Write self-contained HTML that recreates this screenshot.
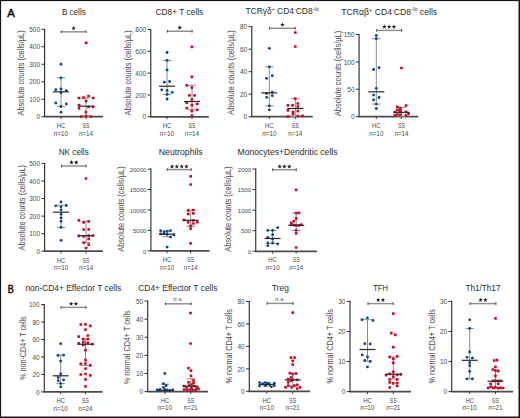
<!DOCTYPE html>
<html><head><meta charset="utf-8"><style>
html,body{margin:0;padding:0;background:#fff;}
body{width:520px;height:418px;overflow:hidden;position:relative;}
svg{display:block;position:absolute;left:0;top:0;}
text{font-family:"Liberation Sans", sans-serif;}
</style></head><body>
<svg width="520" height="418" viewBox="0 0 520 418">
<rect x="0" y="0" width="520" height="418" fill="#fff"/>
<text x="7.2" y="16.6" font-size="11.4" fill="#111" stroke="#111" stroke-width="0.55" textLength="7.6" lengthAdjust="spacingAndGlyphs">A</text>
<text x="7.7" y="292.8" font-size="11" fill="#111" stroke="#111" stroke-width="0.55" textLength="6.0" lengthAdjust="spacingAndGlyphs">B</text>
<line x1="44.60" y1="28.70" x2="44.60" y2="116.70" stroke="#2e2e2e" stroke-width="1.15"/>
<line x1="44.00" y1="116.70" x2="103.00" y2="116.70" stroke="#4c4c4c" stroke-width="1.75"/>
<line x1="41.40" y1="116.70" x2="44.60" y2="116.70" stroke="#2e2e2e" stroke-width="1"/>
<text x="40.00" y="119.40" font-size="6.4" fill="#4a4a4a" text-anchor="end" textLength="3.60" lengthAdjust="spacingAndGlyphs">0</text>
<line x1="41.40" y1="99.22" x2="44.60" y2="99.22" stroke="#2e2e2e" stroke-width="1"/>
<text x="40.00" y="101.92" font-size="6.4" fill="#4a4a4a" text-anchor="end" textLength="10.80" lengthAdjust="spacingAndGlyphs">100</text>
<line x1="41.40" y1="81.74" x2="44.60" y2="81.74" stroke="#2e2e2e" stroke-width="1"/>
<text x="40.00" y="84.44" font-size="6.4" fill="#4a4a4a" text-anchor="end" textLength="10.80" lengthAdjust="spacingAndGlyphs">200</text>
<line x1="41.40" y1="64.26" x2="44.60" y2="64.26" stroke="#2e2e2e" stroke-width="1"/>
<text x="40.00" y="66.96" font-size="6.4" fill="#4a4a4a" text-anchor="end" textLength="10.80" lengthAdjust="spacingAndGlyphs">300</text>
<line x1="41.40" y1="46.78" x2="44.60" y2="46.78" stroke="#2e2e2e" stroke-width="1"/>
<text x="40.00" y="49.48" font-size="6.4" fill="#4a4a4a" text-anchor="end" textLength="10.80" lengthAdjust="spacingAndGlyphs">400</text>
<line x1="41.40" y1="29.30" x2="44.60" y2="29.30" stroke="#2e2e2e" stroke-width="1"/>
<text x="40.00" y="32.00" font-size="6.4" fill="#4a4a4a" text-anchor="end" textLength="10.80" lengthAdjust="spacingAndGlyphs">500</text>
<line x1="61.00" y1="116.70" x2="61.00" y2="119.10" stroke="#2e2e2e" stroke-width="0.9"/>
<line x1="86.00" y1="116.70" x2="86.00" y2="119.10" stroke="#2e2e2e" stroke-width="0.9"/>
<text x="61.00" y="127.90" font-size="6.4" fill="#4a4a4a" text-anchor="middle" textLength="8.50" lengthAdjust="spacingAndGlyphs">HC</text>
<text x="86.00" y="127.90" font-size="6.4" fill="#4a4a4a" text-anchor="middle" textLength="7.00" lengthAdjust="spacingAndGlyphs">SS</text>
<text x="61.00" y="135.80" font-size="6.4" fill="#4a4a4a" text-anchor="middle" textLength="14.30" lengthAdjust="spacingAndGlyphs">n=10</text>
<text x="86.00" y="135.80" font-size="6.4" fill="#4a4a4a" text-anchor="middle" textLength="14.00" lengthAdjust="spacingAndGlyphs">n=14</text>
<line x1="61.00" y1="77.80" x2="61.00" y2="106.40" stroke="#8a8a8a" stroke-width="1"/>
<line x1="56.80" y1="77.80" x2="65.20" y2="77.80" stroke="#8a8a8a" stroke-width="1"/>
<line x1="56.80" y1="106.40" x2="65.20" y2="106.40" stroke="#8a8a8a" stroke-width="1"/>
<line x1="86.00" y1="98.00" x2="86.00" y2="116.40" stroke="#8a8a8a" stroke-width="1"/>
<line x1="81.80" y1="98.00" x2="90.20" y2="98.00" stroke="#8a8a8a" stroke-width="1"/>
<line x1="81.80" y1="116.40" x2="90.20" y2="116.40" stroke="#8a8a8a" stroke-width="1"/>
<circle cx="61.00" cy="64.20" r="1.42" fill="#0b4487"/>
<circle cx="61.00" cy="77.80" r="1.42" fill="#0b4487"/>
<circle cx="55.80" cy="89.70" r="1.42" fill="#0b4487"/>
<circle cx="61.00" cy="89.00" r="1.42" fill="#0b4487"/>
<circle cx="66.30" cy="90.70" r="1.42" fill="#0b4487"/>
<circle cx="61.00" cy="92.80" r="1.42" fill="#0b4487"/>
<circle cx="55.80" cy="103.00" r="1.42" fill="#0b4487"/>
<circle cx="66.30" cy="104.00" r="1.42" fill="#0b4487"/>
<circle cx="61.00" cy="106.50" r="1.42" fill="#0b4487"/>
<circle cx="61.00" cy="112.20" r="1.42" fill="#0b4487"/>
<rect x="84.85" y="41.50" width="2.7" height="2.7" rx="0.7" fill="#cc0a24"/>
<rect x="77.65" y="96.65" width="2.7" height="2.7" rx="0.7" fill="#cc0a24"/>
<rect x="82.15" y="96.35" width="2.7" height="2.7" rx="0.7" fill="#cc0a24"/>
<rect x="87.15" y="94.65" width="2.7" height="2.7" rx="0.7" fill="#cc0a24"/>
<rect x="91.85" y="96.65" width="2.7" height="2.7" rx="0.7" fill="#cc0a24"/>
<rect x="84.65" y="99.65" width="2.7" height="2.7" rx="0.7" fill="#cc0a24"/>
<rect x="77.65" y="103.65" width="2.7" height="2.7" rx="0.7" fill="#cc0a24"/>
<rect x="77.65" y="106.95" width="2.7" height="2.7" rx="0.7" fill="#cc0a24"/>
<rect x="87.15" y="105.65" width="2.7" height="2.7" rx="0.7" fill="#cc0a24"/>
<rect x="91.85" y="105.45" width="2.7" height="2.7" rx="0.7" fill="#cc0a24"/>
<rect x="84.65" y="110.85" width="2.7" height="2.7" rx="0.7" fill="#cc0a24"/>
<rect x="80.15" y="115.25" width="2.7" height="2.7" rx="0.7" fill="#cc0a24"/>
<rect x="84.65" y="114.85" width="2.7" height="2.7" rx="0.7" fill="#cc0a24"/>
<rect x="89.45" y="115.15" width="2.7" height="2.7" rx="0.7" fill="#cc0a24"/>
<line x1="53.00" y1="91.80" x2="69.00" y2="91.80" stroke="#2a2a2a" stroke-width="1.2"/>
<line x1="78.00" y1="106.20" x2="94.00" y2="106.20" stroke="#2a2a2a" stroke-width="1.2"/>
<line x1="60.80" y1="31.80" x2="86.40" y2="31.80" stroke="#8f8f8f" stroke-width="1.45"/>
<line x1="61.20" y1="30.40" x2="61.20" y2="33.20" stroke="#444" stroke-width="0.9"/>
<line x1="86.00" y1="30.40" x2="86.00" y2="33.20" stroke="#444" stroke-width="0.9"/>
<polygon points="73.60,25.85 74.19,27.39 75.83,27.47 74.55,28.51 74.98,30.10 73.60,29.20 72.22,30.10 72.65,28.51 71.37,27.47 73.01,27.39" fill="#1e1e1e"/>
<text x="61.90" y="14.60" font-size="8.8" fill="#2b2b2b" text-anchor="start" textLength="23.90" lengthAdjust="spacingAndGlyphs">B cells</text>
<text transform="translate(23.90,72.90) rotate(-90)" x="0" y="0" font-size="8.6" fill="#4a4a4a" text-anchor="middle" textLength="85.20" lengthAdjust="spacingAndGlyphs">Absolute counts (cells/μL)</text>
<line x1="150.75" y1="28.90" x2="150.75" y2="116.75" stroke="#2e2e2e" stroke-width="1.15"/>
<line x1="150.15" y1="116.75" x2="208.75" y2="116.75" stroke="#4c4c4c" stroke-width="1.75"/>
<line x1="147.55" y1="116.75" x2="150.75" y2="116.75" stroke="#2e2e2e" stroke-width="1"/>
<text x="146.15" y="119.45" font-size="6.4" fill="#4a4a4a" text-anchor="end" textLength="3.60" lengthAdjust="spacingAndGlyphs">0</text>
<line x1="147.55" y1="94.94" x2="150.75" y2="94.94" stroke="#2e2e2e" stroke-width="1"/>
<text x="146.15" y="97.64" font-size="6.4" fill="#4a4a4a" text-anchor="end" textLength="10.80" lengthAdjust="spacingAndGlyphs">200</text>
<line x1="147.55" y1="73.12" x2="150.75" y2="73.12" stroke="#2e2e2e" stroke-width="1"/>
<text x="146.15" y="75.83" font-size="6.4" fill="#4a4a4a" text-anchor="end" textLength="10.80" lengthAdjust="spacingAndGlyphs">400</text>
<line x1="147.55" y1="51.31" x2="150.75" y2="51.31" stroke="#2e2e2e" stroke-width="1"/>
<text x="146.15" y="54.01" font-size="6.4" fill="#4a4a4a" text-anchor="end" textLength="10.80" lengthAdjust="spacingAndGlyphs">600</text>
<line x1="147.55" y1="29.50" x2="150.75" y2="29.50" stroke="#2e2e2e" stroke-width="1"/>
<text x="146.15" y="32.20" font-size="6.4" fill="#4a4a4a" text-anchor="end" textLength="10.80" lengthAdjust="spacingAndGlyphs">800</text>
<line x1="167.00" y1="116.75" x2="167.00" y2="119.15" stroke="#2e2e2e" stroke-width="0.9"/>
<line x1="192.00" y1="116.75" x2="192.00" y2="119.15" stroke="#2e2e2e" stroke-width="0.9"/>
<text x="167.00" y="127.95" font-size="6.4" fill="#4a4a4a" text-anchor="middle" textLength="8.50" lengthAdjust="spacingAndGlyphs">HC</text>
<text x="192.00" y="127.95" font-size="6.4" fill="#4a4a4a" text-anchor="middle" textLength="7.00" lengthAdjust="spacingAndGlyphs">SS</text>
<text x="167.00" y="135.85" font-size="6.4" fill="#4a4a4a" text-anchor="middle" textLength="14.30" lengthAdjust="spacingAndGlyphs">n=10</text>
<text x="192.00" y="135.85" font-size="6.4" fill="#4a4a4a" text-anchor="middle" textLength="14.00" lengthAdjust="spacingAndGlyphs">n=14</text>
<line x1="167.00" y1="60.40" x2="167.00" y2="94.50" stroke="#8a8a8a" stroke-width="1"/>
<line x1="162.80" y1="60.40" x2="171.20" y2="60.40" stroke="#8a8a8a" stroke-width="1"/>
<line x1="162.80" y1="94.50" x2="171.20" y2="94.50" stroke="#8a8a8a" stroke-width="1"/>
<line x1="192.00" y1="85.30" x2="192.00" y2="109.60" stroke="#8a8a8a" stroke-width="1"/>
<line x1="187.80" y1="85.30" x2="196.20" y2="85.30" stroke="#8a8a8a" stroke-width="1"/>
<line x1="187.80" y1="109.60" x2="196.20" y2="109.60" stroke="#8a8a8a" stroke-width="1"/>
<circle cx="167.10" cy="52.50" r="1.42" fill="#0b4487"/>
<circle cx="167.10" cy="60.40" r="1.42" fill="#0b4487"/>
<circle cx="167.10" cy="69.90" r="1.42" fill="#0b4487"/>
<circle cx="164.30" cy="82.20" r="1.42" fill="#0b4487"/>
<circle cx="169.60" cy="81.50" r="1.42" fill="#0b4487"/>
<circle cx="161.70" cy="89.80" r="1.42" fill="#0b4487"/>
<circle cx="167.10" cy="90.40" r="1.42" fill="#0b4487"/>
<circle cx="172.30" cy="92.30" r="1.42" fill="#0b4487"/>
<circle cx="167.10" cy="94.50" r="1.42" fill="#0b4487"/>
<circle cx="167.10" cy="99.00" r="1.42" fill="#0b4487"/>
<rect x="190.55" y="45.55" width="2.7" height="2.7" rx="0.7" fill="#cc0a24"/>
<rect x="190.55" y="75.55" width="2.7" height="2.7" rx="0.7" fill="#cc0a24"/>
<rect x="185.45" y="83.95" width="2.7" height="2.7" rx="0.7" fill="#cc0a24"/>
<rect x="190.55" y="86.25" width="2.7" height="2.7" rx="0.7" fill="#cc0a24"/>
<rect x="188.05" y="93.95" width="2.7" height="2.7" rx="0.7" fill="#cc0a24"/>
<rect x="193.25" y="93.95" width="2.7" height="2.7" rx="0.7" fill="#cc0a24"/>
<rect x="190.55" y="98.15" width="2.7" height="2.7" rx="0.7" fill="#cc0a24"/>
<rect x="185.45" y="101.55" width="2.7" height="2.7" rx="0.7" fill="#cc0a24"/>
<rect x="190.55" y="103.75" width="2.7" height="2.7" rx="0.7" fill="#cc0a24"/>
<rect x="195.85" y="102.65" width="2.7" height="2.7" rx="0.7" fill="#cc0a24"/>
<rect x="185.45" y="106.85" width="2.7" height="2.7" rx="0.7" fill="#cc0a24"/>
<rect x="190.55" y="109.85" width="2.7" height="2.7" rx="0.7" fill="#cc0a24"/>
<rect x="195.85" y="108.45" width="2.7" height="2.7" rx="0.7" fill="#cc0a24"/>
<rect x="190.55" y="114.35" width="2.7" height="2.7" rx="0.7" fill="#cc0a24"/>
<line x1="159.00" y1="86.20" x2="175.00" y2="86.20" stroke="#2a2a2a" stroke-width="1.2"/>
<line x1="184.00" y1="101.50" x2="200.00" y2="101.50" stroke="#2a2a2a" stroke-width="1.2"/>
<line x1="167.00" y1="31.25" x2="192.50" y2="31.25" stroke="#8f8f8f" stroke-width="1.45"/>
<line x1="167.40" y1="29.85" x2="167.40" y2="32.65" stroke="#444" stroke-width="0.9"/>
<line x1="192.10" y1="29.85" x2="192.10" y2="32.65" stroke="#444" stroke-width="0.9"/>
<polygon points="179.75,25.30 180.34,26.84 181.98,26.92 180.70,27.96 181.13,29.55 179.75,28.65 178.37,29.55 178.80,27.96 177.52,26.92 179.16,26.84" fill="#1e1e1e"/>
<text x="155.50" y="14.60" font-size="8.8" fill="#2b2b2b" text-anchor="start" textLength="47.80" lengthAdjust="spacingAndGlyphs">CD8+ T cells</text>
<text transform="translate(130.90,72.90) rotate(-90)" x="0" y="0" font-size="8.6" fill="#4a4a4a" text-anchor="middle" textLength="85.20" lengthAdjust="spacingAndGlyphs">Absolute counts (cells/μL)</text>
<line x1="251.80" y1="26.10" x2="251.80" y2="116.70" stroke="#2e2e2e" stroke-width="1.15"/>
<line x1="251.20" y1="116.70" x2="312.80" y2="116.70" stroke="#4c4c4c" stroke-width="1.75"/>
<line x1="248.60" y1="116.70" x2="251.80" y2="116.70" stroke="#2e2e2e" stroke-width="1"/>
<text x="247.20" y="119.40" font-size="6.4" fill="#4a4a4a" text-anchor="end" textLength="3.60" lengthAdjust="spacingAndGlyphs">0</text>
<line x1="248.60" y1="94.20" x2="251.80" y2="94.20" stroke="#2e2e2e" stroke-width="1"/>
<text x="247.20" y="96.90" font-size="6.4" fill="#4a4a4a" text-anchor="end" textLength="7.20" lengthAdjust="spacingAndGlyphs">20</text>
<line x1="248.60" y1="71.70" x2="251.80" y2="71.70" stroke="#2e2e2e" stroke-width="1"/>
<text x="247.20" y="74.40" font-size="6.4" fill="#4a4a4a" text-anchor="end" textLength="7.20" lengthAdjust="spacingAndGlyphs">40</text>
<line x1="248.60" y1="49.20" x2="251.80" y2="49.20" stroke="#2e2e2e" stroke-width="1"/>
<text x="247.20" y="51.90" font-size="6.4" fill="#4a4a4a" text-anchor="end" textLength="7.20" lengthAdjust="spacingAndGlyphs">60</text>
<line x1="248.60" y1="26.70" x2="251.80" y2="26.70" stroke="#2e2e2e" stroke-width="1"/>
<text x="247.20" y="29.40" font-size="6.4" fill="#4a4a4a" text-anchor="end" textLength="7.20" lengthAdjust="spacingAndGlyphs">80</text>
<line x1="269.30" y1="116.70" x2="269.30" y2="119.10" stroke="#2e2e2e" stroke-width="0.9"/>
<line x1="295.30" y1="116.70" x2="295.30" y2="119.10" stroke="#2e2e2e" stroke-width="0.9"/>
<text x="269.30" y="127.90" font-size="6.4" fill="#4a4a4a" text-anchor="middle" textLength="8.50" lengthAdjust="spacingAndGlyphs">HC</text>
<text x="295.30" y="127.90" font-size="6.4" fill="#4a4a4a" text-anchor="middle" textLength="7.00" lengthAdjust="spacingAndGlyphs">SS</text>
<text x="269.30" y="135.80" font-size="6.4" fill="#4a4a4a" text-anchor="middle" textLength="14.30" lengthAdjust="spacingAndGlyphs"><tspan font-style="italic">n</tspan>=10</text>
<text x="295.30" y="135.80" font-size="6.4" fill="#4a4a4a" text-anchor="middle" textLength="14.00" lengthAdjust="spacingAndGlyphs">n=14</text>
<line x1="269.30" y1="66.80" x2="269.30" y2="105.90" stroke="#8a8a8a" stroke-width="1"/>
<line x1="265.10" y1="66.80" x2="273.50" y2="66.80" stroke="#8a8a8a" stroke-width="1"/>
<line x1="265.10" y1="105.90" x2="273.50" y2="105.90" stroke="#8a8a8a" stroke-width="1"/>
<line x1="295.30" y1="98.70" x2="295.30" y2="116.50" stroke="#8a8a8a" stroke-width="1"/>
<line x1="291.10" y1="98.70" x2="299.50" y2="98.70" stroke="#8a8a8a" stroke-width="1"/>
<line x1="291.10" y1="116.50" x2="299.50" y2="116.50" stroke="#8a8a8a" stroke-width="1"/>
<circle cx="269.30" cy="48.30" r="1.42" fill="#0b4487"/>
<circle cx="269.30" cy="66.80" r="1.42" fill="#0b4487"/>
<circle cx="266.60" cy="78.40" r="1.42" fill="#0b4487"/>
<circle cx="272.30" cy="75.70" r="1.42" fill="#0b4487"/>
<circle cx="266.60" cy="93.40" r="1.42" fill="#0b4487"/>
<circle cx="272.30" cy="92.20" r="1.42" fill="#0b4487"/>
<circle cx="272.30" cy="95.70" r="1.42" fill="#0b4487"/>
<circle cx="266.60" cy="97.30" r="1.42" fill="#0b4487"/>
<circle cx="269.30" cy="105.90" r="1.42" fill="#0b4487"/>
<circle cx="269.30" cy="109.80" r="1.42" fill="#0b4487"/>
<rect x="293.95" y="31.15" width="2.7" height="2.7" rx="0.7" fill="#cc0a24"/>
<rect x="293.95" y="45.15" width="2.7" height="2.7" rx="0.7" fill="#cc0a24"/>
<rect x="293.95" y="97.35" width="2.7" height="2.7" rx="0.7" fill="#cc0a24"/>
<rect x="286.55" y="103.95" width="2.7" height="2.7" rx="0.7" fill="#cc0a24"/>
<rect x="291.25" y="103.95" width="2.7" height="2.7" rx="0.7" fill="#cc0a24"/>
<rect x="296.45" y="102.15" width="2.7" height="2.7" rx="0.7" fill="#cc0a24"/>
<rect x="296.45" y="105.15" width="2.7" height="2.7" rx="0.7" fill="#cc0a24"/>
<rect x="286.55" y="109.05" width="2.7" height="2.7" rx="0.7" fill="#cc0a24"/>
<rect x="291.65" y="110.75" width="2.7" height="2.7" rx="0.7" fill="#cc0a24"/>
<rect x="296.45" y="109.85" width="2.7" height="2.7" rx="0.7" fill="#cc0a24"/>
<rect x="291.65" y="112.85" width="2.7" height="2.7" rx="0.7" fill="#cc0a24"/>
<rect x="286.55" y="115.25" width="2.7" height="2.7" rx="0.7" fill="#cc0a24"/>
<rect x="296.45" y="114.65" width="2.7" height="2.7" rx="0.7" fill="#cc0a24"/>
<rect x="301.25" y="114.45" width="2.7" height="2.7" rx="0.7" fill="#cc0a24"/>
<line x1="261.30" y1="92.90" x2="277.30" y2="92.90" stroke="#2a2a2a" stroke-width="1.2"/>
<line x1="287.30" y1="108.50" x2="303.30" y2="108.50" stroke="#2a2a2a" stroke-width="1.2"/>
<line x1="269.30" y1="28.30" x2="295.60" y2="28.30" stroke="#8f8f8f" stroke-width="1.45"/>
<line x1="269.70" y1="26.90" x2="269.70" y2="29.70" stroke="#444" stroke-width="0.9"/>
<line x1="295.20" y1="26.90" x2="295.20" y2="29.70" stroke="#444" stroke-width="0.9"/>
<polygon points="282.45,22.35 283.04,23.89 284.68,23.97 283.40,25.01 283.83,26.60 282.45,25.70 281.07,26.60 281.50,25.01 280.22,23.97 281.86,23.89" fill="#1e1e1e"/>
<text x="245.40" y="14.30" font-size="8.8" fill="#2b2b2b" text-anchor="start" textLength="73.40" lengthAdjust="spacingAndGlyphs">TCRγδ<tspan font-size="5.6" dy="-3.2">+</tspan><tspan dy="3.2"> CD4</tspan><tspan font-size="5.6" dy="-3.2">-</tspan><tspan dy="3.2">CD8</tspan><tspan font-size="4.6" dy="-3.6">-/lo</tspan></text>
<text transform="translate(233.80,72.50) rotate(-90)" x="0" y="0" font-size="8.6" fill="#4a4a4a" text-anchor="middle" textLength="84.50" lengthAdjust="spacingAndGlyphs">Absolute counts (cells/μL)</text>
<line x1="359.10" y1="33.90" x2="359.10" y2="116.70" stroke="#2e2e2e" stroke-width="1.15"/>
<line x1="358.50" y1="116.70" x2="418.30" y2="116.70" stroke="#4c4c4c" stroke-width="1.75"/>
<line x1="355.90" y1="116.70" x2="359.10" y2="116.70" stroke="#2e2e2e" stroke-width="1"/>
<text x="354.50" y="119.40" font-size="6.4" fill="#4a4a4a" text-anchor="end" textLength="3.60" lengthAdjust="spacingAndGlyphs">0</text>
<line x1="355.90" y1="89.30" x2="359.10" y2="89.30" stroke="#2e2e2e" stroke-width="1"/>
<text x="354.50" y="92.00" font-size="6.4" fill="#4a4a4a" text-anchor="end" textLength="7.20" lengthAdjust="spacingAndGlyphs">50</text>
<line x1="355.90" y1="61.90" x2="359.10" y2="61.90" stroke="#2e2e2e" stroke-width="1"/>
<text x="354.50" y="64.60" font-size="6.4" fill="#4a4a4a" text-anchor="end" textLength="10.80" lengthAdjust="spacingAndGlyphs">100</text>
<line x1="355.90" y1="34.50" x2="359.10" y2="34.50" stroke="#2e2e2e" stroke-width="1"/>
<text x="354.50" y="37.20" font-size="6.4" fill="#4a4a4a" text-anchor="end" textLength="10.80" lengthAdjust="spacingAndGlyphs">150</text>
<line x1="376.30" y1="116.70" x2="376.30" y2="119.10" stroke="#2e2e2e" stroke-width="0.9"/>
<line x1="401.40" y1="116.70" x2="401.40" y2="119.10" stroke="#2e2e2e" stroke-width="0.9"/>
<text x="376.30" y="127.90" font-size="6.4" fill="#4a4a4a" text-anchor="middle" textLength="8.50" lengthAdjust="spacingAndGlyphs">HC</text>
<text x="401.40" y="127.90" font-size="6.4" fill="#4a4a4a" text-anchor="middle" textLength="7.00" lengthAdjust="spacingAndGlyphs">SS</text>
<text x="376.30" y="135.80" font-size="6.4" fill="#4a4a4a" text-anchor="middle" textLength="14.30" lengthAdjust="spacingAndGlyphs">n=10</text>
<text x="401.40" y="135.80" font-size="6.4" fill="#4a4a4a" text-anchor="middle" textLength="14.00" lengthAdjust="spacingAndGlyphs">n=14</text>
<line x1="376.30" y1="38.70" x2="376.30" y2="104.10" stroke="#8a8a8a" stroke-width="1"/>
<line x1="372.10" y1="38.70" x2="380.50" y2="38.70" stroke="#8a8a8a" stroke-width="1"/>
<line x1="372.10" y1="104.10" x2="380.50" y2="104.10" stroke="#8a8a8a" stroke-width="1"/>
<line x1="401.40" y1="107.40" x2="401.40" y2="116.40" stroke="#8a8a8a" stroke-width="1"/>
<line x1="397.20" y1="107.40" x2="405.60" y2="107.40" stroke="#8a8a8a" stroke-width="1"/>
<line x1="397.20" y1="116.40" x2="405.60" y2="116.40" stroke="#8a8a8a" stroke-width="1"/>
<circle cx="376.30" cy="35.50" r="1.42" fill="#0b4487"/>
<circle cx="376.30" cy="38.70" r="1.42" fill="#0b4487"/>
<circle cx="379.10" cy="67.70" r="1.42" fill="#0b4487"/>
<circle cx="373.60" cy="69.50" r="1.42" fill="#0b4487"/>
<circle cx="376.30" cy="88.30" r="1.42" fill="#0b4487"/>
<circle cx="373.60" cy="95.10" r="1.42" fill="#0b4487"/>
<circle cx="379.10" cy="97.50" r="1.42" fill="#0b4487"/>
<circle cx="373.60" cy="99.90" r="1.42" fill="#0b4487"/>
<circle cx="376.30" cy="104.10" r="1.42" fill="#0b4487"/>
<circle cx="376.30" cy="108.50" r="1.42" fill="#0b4487"/>
<rect x="400.05" y="66.65" width="2.7" height="2.7" rx="0.7" fill="#cc0a24"/>
<rect x="395.95" y="105.45" width="2.7" height="2.7" rx="0.7" fill="#cc0a24"/>
<rect x="404.65" y="104.25" width="2.7" height="2.7" rx="0.7" fill="#cc0a24"/>
<rect x="398.65" y="106.65" width="2.7" height="2.7" rx="0.7" fill="#cc0a24"/>
<rect x="395.95" y="108.65" width="2.7" height="2.7" rx="0.7" fill="#cc0a24"/>
<rect x="398.65" y="108.65" width="2.7" height="2.7" rx="0.7" fill="#cc0a24"/>
<rect x="393.55" y="110.65" width="2.7" height="2.7" rx="0.7" fill="#cc0a24"/>
<rect x="398.65" y="110.65" width="2.7" height="2.7" rx="0.7" fill="#cc0a24"/>
<rect x="404.65" y="110.45" width="2.7" height="2.7" rx="0.7" fill="#cc0a24"/>
<rect x="395.95" y="113.15" width="2.7" height="2.7" rx="0.7" fill="#cc0a24"/>
<rect x="393.55" y="114.05" width="2.7" height="2.7" rx="0.7" fill="#cc0a24"/>
<rect x="398.65" y="113.45" width="2.7" height="2.7" rx="0.7" fill="#cc0a24"/>
<rect x="404.65" y="114.05" width="2.7" height="2.7" rx="0.7" fill="#cc0a24"/>
<rect x="407.25" y="112.25" width="2.7" height="2.7" rx="0.7" fill="#cc0a24"/>
<line x1="368.30" y1="91.80" x2="384.30" y2="91.80" stroke="#2a2a2a" stroke-width="1.2"/>
<line x1="393.40" y1="112.40" x2="409.40" y2="112.40" stroke="#2a2a2a" stroke-width="1.2"/>
<line x1="376.30" y1="30.40" x2="402.00" y2="30.40" stroke="#8f8f8f" stroke-width="1.45"/>
<line x1="376.70" y1="29.00" x2="376.70" y2="31.80" stroke="#444" stroke-width="0.9"/>
<line x1="401.60" y1="29.00" x2="401.60" y2="31.80" stroke="#444" stroke-width="0.9"/>
<polygon points="384.35,24.45 384.94,25.99 386.58,26.07 385.30,27.11 385.73,28.70 384.35,27.80 382.97,28.70 383.40,27.11 382.12,26.07 383.76,25.99" fill="#1e1e1e"/>
<polygon points="389.15,24.45 389.74,25.99 391.38,26.07 390.10,27.11 390.53,28.70 389.15,27.80 387.77,28.70 388.20,27.11 386.92,26.07 388.56,25.99" fill="#1e1e1e"/>
<polygon points="393.95,24.45 394.54,25.99 396.18,26.07 394.90,27.11 395.33,28.70 393.95,27.80 392.57,28.70 393.00,27.11 391.72,26.07 393.36,25.99" fill="#1e1e1e"/>
<text x="341.30" y="14.80" font-size="8.8" fill="#2b2b2b" text-anchor="start" textLength="95.90" lengthAdjust="spacingAndGlyphs">TCRαβ<tspan font-size="5.6" dy="-3.2">+</tspan><tspan dy="3.2"> CD4</tspan><tspan font-size="5.6" dy="-3.2">-</tspan><tspan dy="3.2">CD8</tspan><tspan font-size="4.6" dy="-3.6">-/lo</tspan><tspan dy="3.6"> cells</tspan></text>
<text transform="translate(340.90,73.50) rotate(-90)" x="0" y="0" font-size="8.6" fill="#4a4a4a" text-anchor="middle" textLength="85.20" lengthAdjust="spacingAndGlyphs">Absolute counts (cells/μL)</text>
<line x1="44.60" y1="163.00" x2="44.60" y2="251.10" stroke="#2e2e2e" stroke-width="1.15"/>
<line x1="44.00" y1="251.10" x2="103.00" y2="251.10" stroke="#4c4c4c" stroke-width="1.75"/>
<line x1="41.40" y1="251.10" x2="44.60" y2="251.10" stroke="#2e2e2e" stroke-width="1"/>
<text x="40.00" y="253.80" font-size="6.4" fill="#4a4a4a" text-anchor="end" textLength="3.60" lengthAdjust="spacingAndGlyphs">0</text>
<line x1="41.40" y1="233.60" x2="44.60" y2="233.60" stroke="#2e2e2e" stroke-width="1"/>
<text x="40.00" y="236.30" font-size="6.4" fill="#4a4a4a" text-anchor="end" textLength="10.80" lengthAdjust="spacingAndGlyphs">100</text>
<line x1="41.40" y1="216.10" x2="44.60" y2="216.10" stroke="#2e2e2e" stroke-width="1"/>
<text x="40.00" y="218.80" font-size="6.4" fill="#4a4a4a" text-anchor="end" textLength="10.80" lengthAdjust="spacingAndGlyphs">200</text>
<line x1="41.40" y1="198.60" x2="44.60" y2="198.60" stroke="#2e2e2e" stroke-width="1"/>
<text x="40.00" y="201.30" font-size="6.4" fill="#4a4a4a" text-anchor="end" textLength="10.80" lengthAdjust="spacingAndGlyphs">300</text>
<line x1="41.40" y1="181.10" x2="44.60" y2="181.10" stroke="#2e2e2e" stroke-width="1"/>
<text x="40.00" y="183.80" font-size="6.4" fill="#4a4a4a" text-anchor="end" textLength="10.80" lengthAdjust="spacingAndGlyphs">400</text>
<line x1="41.40" y1="163.60" x2="44.60" y2="163.60" stroke="#2e2e2e" stroke-width="1"/>
<text x="40.00" y="166.30" font-size="6.4" fill="#4a4a4a" text-anchor="end" textLength="10.80" lengthAdjust="spacingAndGlyphs">500</text>
<line x1="61.10" y1="251.10" x2="61.10" y2="253.50" stroke="#2e2e2e" stroke-width="0.9"/>
<line x1="86.10" y1="251.10" x2="86.10" y2="253.50" stroke="#2e2e2e" stroke-width="0.9"/>
<text x="61.10" y="262.50" font-size="6.4" fill="#4a4a4a" text-anchor="middle" textLength="8.50" lengthAdjust="spacingAndGlyphs">HC</text>
<text x="86.10" y="262.50" font-size="6.4" fill="#4a4a4a" text-anchor="middle" textLength="7.00" lengthAdjust="spacingAndGlyphs">SS</text>
<text x="61.10" y="270.30" font-size="6.4" fill="#4a4a4a" text-anchor="middle" textLength="14.30" lengthAdjust="spacingAndGlyphs">n=10</text>
<text x="86.10" y="270.30" font-size="6.4" fill="#4a4a4a" text-anchor="middle" textLength="14.00" lengthAdjust="spacingAndGlyphs">n=14</text>
<line x1="61.10" y1="205.30" x2="61.10" y2="227.40" stroke="#8a8a8a" stroke-width="1"/>
<line x1="56.90" y1="205.30" x2="65.30" y2="205.30" stroke="#8a8a8a" stroke-width="1"/>
<line x1="56.90" y1="227.40" x2="65.30" y2="227.40" stroke="#8a8a8a" stroke-width="1"/>
<line x1="86.10" y1="221.30" x2="86.10" y2="242.60" stroke="#8a8a8a" stroke-width="1"/>
<line x1="81.90" y1="221.30" x2="90.30" y2="221.30" stroke="#8a8a8a" stroke-width="1"/>
<line x1="81.90" y1="242.60" x2="90.30" y2="242.60" stroke="#8a8a8a" stroke-width="1"/>
<circle cx="61.00" cy="202.00" r="1.42" fill="#0b4487"/>
<circle cx="55.80" cy="205.80" r="1.42" fill="#0b4487"/>
<circle cx="66.30" cy="205.50" r="1.42" fill="#0b4487"/>
<circle cx="61.00" cy="206.80" r="1.42" fill="#0b4487"/>
<circle cx="61.00" cy="209.80" r="1.42" fill="#0b4487"/>
<circle cx="61.10" cy="214.30" r="1.42" fill="#0b4487"/>
<circle cx="61.10" cy="217.90" r="1.42" fill="#0b4487"/>
<circle cx="61.10" cy="221.30" r="1.42" fill="#0b4487"/>
<circle cx="61.10" cy="227.40" r="1.42" fill="#0b4487"/>
<circle cx="61.10" cy="240.30" r="1.42" fill="#0b4487"/>
<rect x="84.65" y="177.15" width="2.7" height="2.7" rx="0.7" fill="#cc0a24"/>
<rect x="77.55" y="219.05" width="2.7" height="2.7" rx="0.7" fill="#cc0a24"/>
<rect x="82.35" y="220.95" width="2.7" height="2.7" rx="0.7" fill="#cc0a24"/>
<rect x="87.35" y="219.95" width="2.7" height="2.7" rx="0.7" fill="#cc0a24"/>
<rect x="82.35" y="228.15" width="2.7" height="2.7" rx="0.7" fill="#cc0a24"/>
<rect x="87.35" y="227.95" width="2.7" height="2.7" rx="0.7" fill="#cc0a24"/>
<rect x="77.55" y="234.55" width="2.7" height="2.7" rx="0.7" fill="#cc0a24"/>
<rect x="82.35" y="235.05" width="2.7" height="2.7" rx="0.7" fill="#cc0a24"/>
<rect x="87.35" y="234.35" width="2.7" height="2.7" rx="0.7" fill="#cc0a24"/>
<rect x="91.75" y="234.15" width="2.7" height="2.7" rx="0.7" fill="#cc0a24"/>
<rect x="87.35" y="237.45" width="2.7" height="2.7" rx="0.7" fill="#cc0a24"/>
<rect x="82.35" y="241.25" width="2.7" height="2.7" rx="0.7" fill="#cc0a24"/>
<rect x="87.35" y="243.35" width="2.7" height="2.7" rx="0.7" fill="#cc0a24"/>
<rect x="84.75" y="246.65" width="2.7" height="2.7" rx="0.7" fill="#cc0a24"/>
<line x1="53.10" y1="212.20" x2="69.10" y2="212.20" stroke="#2a2a2a" stroke-width="1.2"/>
<line x1="78.10" y1="235.70" x2="94.10" y2="235.70" stroke="#2a2a2a" stroke-width="1.2"/>
<line x1="61.20" y1="166.00" x2="86.50" y2="166.00" stroke="#8f8f8f" stroke-width="1.45"/>
<line x1="61.60" y1="164.60" x2="61.60" y2="167.40" stroke="#444" stroke-width="0.9"/>
<line x1="86.10" y1="164.60" x2="86.10" y2="167.40" stroke="#444" stroke-width="0.9"/>
<polygon points="71.45,160.05 72.04,161.59 73.68,161.67 72.40,162.71 72.83,164.30 71.45,163.40 70.07,164.30 70.50,162.71 69.22,161.67 70.86,161.59" fill="#1e1e1e"/>
<polygon points="76.25,160.05 76.84,161.59 78.48,161.67 77.20,162.71 77.63,164.30 76.25,163.40 74.87,164.30 75.30,162.71 74.02,161.67 75.66,161.59" fill="#1e1e1e"/>
<text x="58.70" y="155.00" font-size="8.8" fill="#2b2b2b" text-anchor="start" textLength="30.10" lengthAdjust="spacingAndGlyphs">NK cells</text>
<text transform="translate(24.70,207.70) rotate(-90)" x="0" y="0" font-size="8.6" fill="#4a4a4a" text-anchor="middle" textLength="85.50" lengthAdjust="spacingAndGlyphs">Absolute counts (cells/μL)</text>
<line x1="150.90" y1="168.50" x2="150.90" y2="250.80" stroke="#2e2e2e" stroke-width="1.15"/>
<line x1="150.30" y1="250.80" x2="209.60" y2="250.80" stroke="#4c4c4c" stroke-width="1.75"/>
<line x1="147.70" y1="250.80" x2="150.90" y2="250.80" stroke="#2e2e2e" stroke-width="1"/>
<text x="146.30" y="253.50" font-size="6.0" fill="#4a4a4a" text-anchor="end" textLength="3.32" lengthAdjust="spacingAndGlyphs">0</text>
<line x1="147.70" y1="230.38" x2="150.90" y2="230.38" stroke="#2e2e2e" stroke-width="1"/>
<text x="146.30" y="233.07" font-size="6.0" fill="#4a4a4a" text-anchor="end" textLength="13.28" lengthAdjust="spacingAndGlyphs">5000</text>
<line x1="147.70" y1="209.95" x2="150.90" y2="209.95" stroke="#2e2e2e" stroke-width="1"/>
<text x="146.30" y="212.65" font-size="6.0" fill="#4a4a4a" text-anchor="end" textLength="16.60" lengthAdjust="spacingAndGlyphs">10000</text>
<line x1="147.70" y1="189.53" x2="150.90" y2="189.53" stroke="#2e2e2e" stroke-width="1"/>
<text x="146.30" y="192.22" font-size="6.0" fill="#4a4a4a" text-anchor="end" textLength="16.60" lengthAdjust="spacingAndGlyphs">15000</text>
<line x1="147.70" y1="169.10" x2="150.90" y2="169.10" stroke="#2e2e2e" stroke-width="1"/>
<text x="146.30" y="171.80" font-size="6.0" fill="#4a4a4a" text-anchor="end" textLength="16.60" lengthAdjust="spacingAndGlyphs">20000</text>
<line x1="167.10" y1="250.80" x2="167.10" y2="253.20" stroke="#2e2e2e" stroke-width="0.9"/>
<line x1="190.70" y1="250.80" x2="190.70" y2="253.20" stroke="#2e2e2e" stroke-width="0.9"/>
<text x="167.10" y="262.40" font-size="6.4" fill="#4a4a4a" text-anchor="middle" textLength="8.50" lengthAdjust="spacingAndGlyphs">HC</text>
<text x="190.70" y="262.40" font-size="6.4" fill="#4a4a4a" text-anchor="middle" textLength="7.00" lengthAdjust="spacingAndGlyphs">SS</text>
<text x="167.10" y="270.10" font-size="6.4" fill="#4a4a4a" text-anchor="middle" textLength="14.30" lengthAdjust="spacingAndGlyphs">n=10</text>
<text x="190.70" y="270.10" font-size="6.4" fill="#4a4a4a" text-anchor="middle" textLength="14.00" lengthAdjust="spacingAndGlyphs">n=14</text>
<line x1="167.10" y1="230.80" x2="167.10" y2="236.70" stroke="#8a8a8a" stroke-width="1"/>
<line x1="162.90" y1="230.80" x2="171.30" y2="230.80" stroke="#8a8a8a" stroke-width="1"/>
<line x1="162.90" y1="236.70" x2="171.30" y2="236.70" stroke="#8a8a8a" stroke-width="1"/>
<line x1="190.70" y1="210.40" x2="190.70" y2="226.30" stroke="#8a8a8a" stroke-width="1"/>
<line x1="186.50" y1="210.40" x2="194.90" y2="210.40" stroke="#8a8a8a" stroke-width="1"/>
<line x1="186.50" y1="226.30" x2="194.90" y2="226.30" stroke="#8a8a8a" stroke-width="1"/>
<circle cx="160.60" cy="230.70" r="1.42" fill="#0b4487"/>
<circle cx="164.00" cy="231.90" r="1.42" fill="#0b4487"/>
<circle cx="167.20" cy="231.30" r="1.42" fill="#0b4487"/>
<circle cx="170.50" cy="230.70" r="1.42" fill="#0b4487"/>
<circle cx="160.60" cy="233.90" r="1.42" fill="#0b4487"/>
<circle cx="164.00" cy="233.70" r="1.42" fill="#0b4487"/>
<circle cx="167.20" cy="234.30" r="1.42" fill="#0b4487"/>
<circle cx="173.90" cy="234.90" r="1.42" fill="#0b4487"/>
<circle cx="170.50" cy="237.00" r="1.42" fill="#0b4487"/>
<circle cx="167.20" cy="247.10" r="1.42" fill="#0b4487"/>
<rect x="189.35" y="175.05" width="2.7" height="2.7" rx="0.7" fill="#cc0a24"/>
<rect x="189.35" y="183.15" width="2.7" height="2.7" rx="0.7" fill="#cc0a24"/>
<rect x="186.85" y="209.05" width="2.7" height="2.7" rx="0.7" fill="#cc0a24"/>
<rect x="191.95" y="208.65" width="2.7" height="2.7" rx="0.7" fill="#cc0a24"/>
<rect x="186.85" y="212.65" width="2.7" height="2.7" rx="0.7" fill="#cc0a24"/>
<rect x="191.95" y="212.05" width="2.7" height="2.7" rx="0.7" fill="#cc0a24"/>
<rect x="182.65" y="218.65" width="2.7" height="2.7" rx="0.7" fill="#cc0a24"/>
<rect x="186.85" y="220.95" width="2.7" height="2.7" rx="0.7" fill="#cc0a24"/>
<rect x="191.95" y="218.95" width="2.7" height="2.7" rx="0.7" fill="#cc0a24"/>
<rect x="191.95" y="222.15" width="2.7" height="2.7" rx="0.7" fill="#cc0a24"/>
<rect x="196.05" y="220.75" width="2.7" height="2.7" rx="0.7" fill="#cc0a24"/>
<rect x="189.25" y="224.55" width="2.7" height="2.7" rx="0.7" fill="#cc0a24"/>
<rect x="189.25" y="227.35" width="2.7" height="2.7" rx="0.7" fill="#cc0a24"/>
<rect x="189.25" y="241.95" width="2.7" height="2.7" rx="0.7" fill="#cc0a24"/>
<line x1="159.10" y1="234.10" x2="175.10" y2="234.10" stroke="#2a2a2a" stroke-width="1.2"/>
<line x1="182.70" y1="220.30" x2="198.70" y2="220.30" stroke="#2a2a2a" stroke-width="1.2"/>
<line x1="166.90" y1="169.60" x2="191.60" y2="169.60" stroke="#8f8f8f" stroke-width="1.45"/>
<line x1="167.30" y1="168.20" x2="167.30" y2="171.00" stroke="#444" stroke-width="0.9"/>
<line x1="191.20" y1="168.20" x2="191.20" y2="171.00" stroke="#444" stroke-width="0.9"/>
<polygon points="172.05,164.15 172.64,165.69 174.28,165.77 173.00,166.81 173.43,168.40 172.05,167.50 170.67,168.40 171.10,166.81 169.82,165.77 171.46,165.69" fill="#1e1e1e"/>
<polygon points="176.85,164.15 177.44,165.69 179.08,165.77 177.80,166.81 178.23,168.40 176.85,167.50 175.47,168.40 175.90,166.81 174.62,165.77 176.26,165.69" fill="#1e1e1e"/>
<polygon points="181.65,164.15 182.24,165.69 183.88,165.77 182.60,166.81 183.03,168.40 181.65,167.50 180.27,168.40 180.70,166.81 179.42,165.77 181.06,165.69" fill="#1e1e1e"/>
<polygon points="186.45,164.15 187.04,165.69 188.68,165.77 187.40,166.81 187.83,168.40 186.45,167.50 185.07,168.40 185.50,166.81 184.22,165.77 185.86,165.69" fill="#1e1e1e"/>
<text x="158.80" y="155.00" font-size="8.8" fill="#2b2b2b" text-anchor="start" textLength="43.90" lengthAdjust="spacingAndGlyphs">Neutrophils</text>
<text transform="translate(123.60,209.00) rotate(-90)" x="0" y="0" font-size="8.6" fill="#4a4a4a" text-anchor="middle" textLength="85.50" lengthAdjust="spacingAndGlyphs">Absolute counts (cells/μL)</text>
<line x1="255.75" y1="168.40" x2="255.75" y2="251.25" stroke="#2e2e2e" stroke-width="1.15"/>
<line x1="255.15" y1="251.25" x2="317.00" y2="251.25" stroke="#4c4c4c" stroke-width="1.75"/>
<line x1="252.55" y1="251.25" x2="255.75" y2="251.25" stroke="#2e2e2e" stroke-width="1"/>
<text x="251.15" y="253.95" font-size="6.0" fill="#4a4a4a" text-anchor="end" textLength="3.32" lengthAdjust="spacingAndGlyphs">0</text>
<line x1="252.55" y1="230.69" x2="255.75" y2="230.69" stroke="#2e2e2e" stroke-width="1"/>
<text x="251.15" y="233.39" font-size="6.0" fill="#4a4a4a" text-anchor="end" textLength="9.96" lengthAdjust="spacingAndGlyphs">500</text>
<line x1="252.55" y1="210.12" x2="255.75" y2="210.12" stroke="#2e2e2e" stroke-width="1"/>
<text x="251.15" y="212.82" font-size="6.0" fill="#4a4a4a" text-anchor="end" textLength="13.28" lengthAdjust="spacingAndGlyphs">1000</text>
<line x1="252.55" y1="189.56" x2="255.75" y2="189.56" stroke="#2e2e2e" stroke-width="1"/>
<text x="251.15" y="192.26" font-size="6.0" fill="#4a4a4a" text-anchor="end" textLength="13.28" lengthAdjust="spacingAndGlyphs">1500</text>
<line x1="252.55" y1="169.00" x2="255.75" y2="169.00" stroke="#2e2e2e" stroke-width="1"/>
<text x="251.15" y="171.70" font-size="6.0" fill="#4a4a4a" text-anchor="end" textLength="13.28" lengthAdjust="spacingAndGlyphs">2000</text>
<line x1="272.60" y1="251.25" x2="272.60" y2="253.65" stroke="#2e2e2e" stroke-width="0.9"/>
<line x1="296.20" y1="251.25" x2="296.20" y2="253.65" stroke="#2e2e2e" stroke-width="0.9"/>
<text x="272.60" y="262.45" font-size="6.4" fill="#4a4a4a" text-anchor="middle" textLength="8.50" lengthAdjust="spacingAndGlyphs">HC</text>
<text x="296.20" y="262.45" font-size="6.4" fill="#4a4a4a" text-anchor="middle" textLength="7.00" lengthAdjust="spacingAndGlyphs">SS</text>
<text x="272.60" y="270.35" font-size="6.4" fill="#4a4a4a" text-anchor="middle" textLength="14.30" lengthAdjust="spacingAndGlyphs"><tspan font-style="italic">n</tspan>=10</text>
<text x="296.20" y="270.35" font-size="6.4" fill="#4a4a4a" text-anchor="middle" textLength="14.00" lengthAdjust="spacingAndGlyphs"><tspan font-style="italic">n</tspan>=14</text>
<line x1="272.60" y1="230.40" x2="272.60" y2="243.50" stroke="#8a8a8a" stroke-width="1"/>
<line x1="268.40" y1="230.40" x2="276.80" y2="230.40" stroke="#8a8a8a" stroke-width="1"/>
<line x1="268.40" y1="243.50" x2="276.80" y2="243.50" stroke="#8a8a8a" stroke-width="1"/>
<line x1="296.20" y1="213.10" x2="296.20" y2="230.50" stroke="#8a8a8a" stroke-width="1"/>
<line x1="292.00" y1="213.10" x2="300.40" y2="213.10" stroke="#8a8a8a" stroke-width="1"/>
<line x1="292.00" y1="230.50" x2="300.40" y2="230.50" stroke="#8a8a8a" stroke-width="1"/>
<circle cx="267.80" cy="230.40" r="1.42" fill="#0b4487"/>
<circle cx="272.60" cy="230.40" r="1.42" fill="#0b4487"/>
<circle cx="277.70" cy="227.70" r="1.42" fill="#0b4487"/>
<circle cx="272.60" cy="234.70" r="1.42" fill="#0b4487"/>
<circle cx="267.80" cy="237.50" r="1.42" fill="#0b4487"/>
<circle cx="272.60" cy="238.90" r="1.42" fill="#0b4487"/>
<circle cx="267.80" cy="243.00" r="1.42" fill="#0b4487"/>
<circle cx="272.60" cy="243.00" r="1.42" fill="#0b4487"/>
<circle cx="277.70" cy="243.90" r="1.42" fill="#0b4487"/>
<circle cx="267.80" cy="245.70" r="1.42" fill="#0b4487"/>
<rect x="294.85" y="188.55" width="2.7" height="2.7" rx="0.7" fill="#cc0a24"/>
<rect x="294.85" y="211.75" width="2.7" height="2.7" rx="0.7" fill="#cc0a24"/>
<rect x="297.55" y="211.45" width="2.7" height="2.7" rx="0.7" fill="#cc0a24"/>
<rect x="294.85" y="217.05" width="2.7" height="2.7" rx="0.7" fill="#cc0a24"/>
<rect x="292.55" y="219.75" width="2.7" height="2.7" rx="0.7" fill="#cc0a24"/>
<rect x="289.95" y="221.55" width="2.7" height="2.7" rx="0.7" fill="#cc0a24"/>
<rect x="289.95" y="223.35" width="2.7" height="2.7" rx="0.7" fill="#cc0a24"/>
<rect x="292.55" y="223.75" width="2.7" height="2.7" rx="0.7" fill="#cc0a24"/>
<rect x="294.85" y="223.95" width="2.7" height="2.7" rx="0.7" fill="#cc0a24"/>
<rect x="297.55" y="223.95" width="2.7" height="2.7" rx="0.7" fill="#cc0a24"/>
<rect x="299.95" y="223.35" width="2.7" height="2.7" rx="0.7" fill="#cc0a24"/>
<rect x="294.85" y="229.05" width="2.7" height="2.7" rx="0.7" fill="#cc0a24"/>
<rect x="294.85" y="231.95" width="2.7" height="2.7" rx="0.7" fill="#cc0a24"/>
<rect x="294.85" y="246.15" width="2.7" height="2.7" rx="0.7" fill="#cc0a24"/>
<line x1="264.60" y1="238.50" x2="280.60" y2="238.50" stroke="#2a2a2a" stroke-width="1.2"/>
<line x1="288.20" y1="225.30" x2="304.20" y2="225.30" stroke="#2a2a2a" stroke-width="1.2"/>
<line x1="272.30" y1="169.70" x2="296.60" y2="169.70" stroke="#8f8f8f" stroke-width="1.45"/>
<line x1="272.70" y1="168.30" x2="272.70" y2="171.10" stroke="#444" stroke-width="0.9"/>
<line x1="296.20" y1="168.30" x2="296.20" y2="171.10" stroke="#444" stroke-width="0.9"/>
<polygon points="279.65,164.25 280.24,165.79 281.88,165.87 280.60,166.91 281.03,168.50 279.65,167.60 278.27,168.50 278.70,166.91 277.42,165.87 279.06,165.79" fill="#1e1e1e"/>
<polygon points="284.45,164.25 285.04,165.79 286.68,165.87 285.40,166.91 285.83,168.50 284.45,167.60 283.07,168.50 283.50,166.91 282.22,165.87 283.86,165.79" fill="#1e1e1e"/>
<polygon points="289.25,164.25 289.84,165.79 291.48,165.87 290.20,166.91 290.63,168.50 289.25,167.60 287.87,168.50 288.30,166.91 287.02,165.87 288.66,165.79" fill="#1e1e1e"/>
<text x="237.50" y="155.00" font-size="8.8" fill="#2b2b2b" text-anchor="start" textLength="100.00" lengthAdjust="spacingAndGlyphs">Monocytes+Dendritic cells</text>
<text transform="translate(230.80,209.00) rotate(-90)" x="0" y="0" font-size="8.6" fill="#4a4a4a" text-anchor="middle" textLength="85.50" lengthAdjust="spacingAndGlyphs">Absolute counts (cells/μL)</text>
<line x1="44.30" y1="304.00" x2="44.30" y2="391.90" stroke="#2e2e2e" stroke-width="1.15"/>
<line x1="43.70" y1="391.90" x2="102.60" y2="391.90" stroke="#4c4c4c" stroke-width="1.75"/>
<line x1="41.10" y1="391.90" x2="44.30" y2="391.90" stroke="#2e2e2e" stroke-width="1"/>
<text x="39.70" y="394.60" font-size="6.4" fill="#4a4a4a" text-anchor="end" textLength="3.60" lengthAdjust="spacingAndGlyphs">0</text>
<line x1="41.10" y1="374.44" x2="44.30" y2="374.44" stroke="#2e2e2e" stroke-width="1"/>
<text x="39.70" y="377.14" font-size="6.4" fill="#4a4a4a" text-anchor="end" textLength="7.20" lengthAdjust="spacingAndGlyphs">20</text>
<line x1="41.10" y1="356.98" x2="44.30" y2="356.98" stroke="#2e2e2e" stroke-width="1"/>
<text x="39.70" y="359.68" font-size="6.4" fill="#4a4a4a" text-anchor="end" textLength="7.20" lengthAdjust="spacingAndGlyphs">40</text>
<line x1="41.10" y1="339.52" x2="44.30" y2="339.52" stroke="#2e2e2e" stroke-width="1"/>
<text x="39.70" y="342.22" font-size="6.4" fill="#4a4a4a" text-anchor="end" textLength="7.20" lengthAdjust="spacingAndGlyphs">60</text>
<line x1="41.10" y1="322.06" x2="44.30" y2="322.06" stroke="#2e2e2e" stroke-width="1"/>
<text x="39.70" y="324.76" font-size="6.4" fill="#4a4a4a" text-anchor="end" textLength="7.20" lengthAdjust="spacingAndGlyphs">80</text>
<line x1="41.10" y1="304.60" x2="44.30" y2="304.60" stroke="#2e2e2e" stroke-width="1"/>
<text x="39.70" y="307.30" font-size="6.4" fill="#4a4a4a" text-anchor="end" textLength="10.80" lengthAdjust="spacingAndGlyphs">100</text>
<line x1="60.70" y1="391.90" x2="60.70" y2="394.30" stroke="#2e2e2e" stroke-width="0.9"/>
<line x1="85.50" y1="391.90" x2="85.50" y2="394.30" stroke="#2e2e2e" stroke-width="0.9"/>
<text x="60.70" y="403.30" font-size="6.4" fill="#4a4a4a" text-anchor="middle" textLength="8.50" lengthAdjust="spacingAndGlyphs">HC</text>
<text x="85.50" y="403.30" font-size="6.4" fill="#4a4a4a" text-anchor="middle" textLength="7.00" lengthAdjust="spacingAndGlyphs">SS</text>
<text x="60.70" y="410.70" font-size="6.4" fill="#4a4a4a" text-anchor="middle" textLength="14.30" lengthAdjust="spacingAndGlyphs">n=10</text>
<text x="85.50" y="410.70" font-size="6.4" fill="#4a4a4a" text-anchor="middle" textLength="14.00" lengthAdjust="spacingAndGlyphs">n=24</text>
<line x1="60.70" y1="355.20" x2="60.70" y2="383.60" stroke="#8a8a8a" stroke-width="1"/>
<line x1="56.50" y1="355.20" x2="64.90" y2="355.20" stroke="#8a8a8a" stroke-width="1"/>
<line x1="56.50" y1="383.60" x2="64.90" y2="383.60" stroke="#8a8a8a" stroke-width="1"/>
<line x1="85.50" y1="339.10" x2="85.50" y2="365.30" stroke="#8a8a8a" stroke-width="1"/>
<line x1="81.30" y1="339.10" x2="89.70" y2="339.10" stroke="#8a8a8a" stroke-width="1"/>
<line x1="81.30" y1="365.30" x2="89.70" y2="365.30" stroke="#8a8a8a" stroke-width="1"/>
<circle cx="60.70" cy="343.70" r="1.42" fill="#0b4487"/>
<circle cx="58.00" cy="355.40" r="1.42" fill="#0b4487"/>
<circle cx="63.60" cy="355.10" r="1.42" fill="#0b4487"/>
<circle cx="60.70" cy="361.10" r="1.42" fill="#0b4487"/>
<circle cx="60.70" cy="373.90" r="1.42" fill="#0b4487"/>
<circle cx="58.20" cy="377.50" r="1.42" fill="#0b4487"/>
<circle cx="58.20" cy="380.70" r="1.42" fill="#0b4487"/>
<circle cx="63.60" cy="379.90" r="1.42" fill="#0b4487"/>
<circle cx="60.70" cy="383.60" r="1.42" fill="#0b4487"/>
<circle cx="60.70" cy="386.90" r="1.42" fill="#0b4487"/>
<rect x="79.45" y="323.15" width="2.7" height="2.7" rx="0.7" fill="#cc0a24"/>
<rect x="84.15" y="322.95" width="2.7" height="2.7" rx="0.7" fill="#cc0a24"/>
<rect x="88.95" y="324.45" width="2.7" height="2.7" rx="0.7" fill="#cc0a24"/>
<rect x="84.15" y="328.35" width="2.7" height="2.7" rx="0.7" fill="#cc0a24"/>
<rect x="77.35" y="335.25" width="2.7" height="2.7" rx="0.7" fill="#cc0a24"/>
<rect x="86.45" y="334.15" width="2.7" height="2.7" rx="0.7" fill="#cc0a24"/>
<rect x="81.95" y="337.75" width="2.7" height="2.7" rx="0.7" fill="#cc0a24"/>
<rect x="86.45" y="337.75" width="2.7" height="2.7" rx="0.7" fill="#cc0a24"/>
<rect x="77.35" y="342.05" width="2.7" height="2.7" rx="0.7" fill="#cc0a24"/>
<rect x="81.95" y="340.75" width="2.7" height="2.7" rx="0.7" fill="#cc0a24"/>
<rect x="86.45" y="341.45" width="2.7" height="2.7" rx="0.7" fill="#cc0a24"/>
<rect x="81.95" y="343.65" width="2.7" height="2.7" rx="0.7" fill="#cc0a24"/>
<rect x="91.15" y="342.85" width="2.7" height="2.7" rx="0.7" fill="#cc0a24"/>
<rect x="84.15" y="348.85" width="2.7" height="2.7" rx="0.7" fill="#cc0a24"/>
<rect x="84.15" y="358.85" width="2.7" height="2.7" rx="0.7" fill="#cc0a24"/>
<rect x="79.45" y="362.45" width="2.7" height="2.7" rx="0.7" fill="#cc0a24"/>
<rect x="84.15" y="362.15" width="2.7" height="2.7" rx="0.7" fill="#cc0a24"/>
<rect x="88.95" y="363.95" width="2.7" height="2.7" rx="0.7" fill="#cc0a24"/>
<rect x="84.15" y="367.25" width="2.7" height="2.7" rx="0.7" fill="#cc0a24"/>
<rect x="79.45" y="373.15" width="2.7" height="2.7" rx="0.7" fill="#cc0a24"/>
<rect x="84.15" y="372.65" width="2.7" height="2.7" rx="0.7" fill="#cc0a24"/>
<rect x="88.95" y="373.95" width="2.7" height="2.7" rx="0.7" fill="#cc0a24"/>
<rect x="84.15" y="377.95" width="2.7" height="2.7" rx="0.7" fill="#cc0a24"/>
<rect x="84.15" y="385.05" width="2.7" height="2.7" rx="0.7" fill="#cc0a24"/>
<line x1="52.70" y1="375.80" x2="68.70" y2="375.80" stroke="#2a2a2a" stroke-width="1.2"/>
<line x1="77.50" y1="344.20" x2="93.50" y2="344.20" stroke="#2a2a2a" stroke-width="1.2"/>
<line x1="60.70" y1="307.40" x2="86.30" y2="307.40" stroke="#8f8f8f" stroke-width="1.45"/>
<line x1="61.10" y1="306.00" x2="61.10" y2="308.80" stroke="#444" stroke-width="0.9"/>
<line x1="85.90" y1="306.00" x2="85.90" y2="308.80" stroke="#444" stroke-width="0.9"/>
<polygon points="71.10,301.45 71.69,302.99 73.33,303.07 72.05,304.11 72.48,305.70 71.10,304.80 69.72,305.70 70.15,304.11 68.87,303.07 70.51,302.99" fill="#1e1e1e"/>
<polygon points="75.90,301.45 76.49,302.99 78.13,303.07 76.85,304.11 77.28,305.70 75.90,304.80 74.52,305.70 74.95,304.11 73.67,303.07 75.31,302.99" fill="#1e1e1e"/>
<text x="25.40" y="291.10" font-size="8.8" fill="#2b2b2b" text-anchor="start" textLength="95.85" lengthAdjust="spacingAndGlyphs">non-CD4+ Effector T cells</text>
<text transform="translate(26.40,348.05) rotate(-90)" x="0" y="0" font-size="9.6" fill="#4a4a4a" text-anchor="middle" textLength="63.50" lengthAdjust="spacingAndGlyphs">% non-CD4+ T cells</text>
<line x1="147.70" y1="300.40" x2="147.70" y2="391.60" stroke="#2e2e2e" stroke-width="1.15"/>
<line x1="147.10" y1="391.60" x2="208.00" y2="391.60" stroke="#4c4c4c" stroke-width="1.75"/>
<line x1="144.50" y1="391.60" x2="147.70" y2="391.60" stroke="#2e2e2e" stroke-width="1"/>
<text x="143.10" y="394.30" font-size="6.4" fill="#4a4a4a" text-anchor="end" textLength="3.60" lengthAdjust="spacingAndGlyphs">0</text>
<line x1="144.50" y1="373.48" x2="147.70" y2="373.48" stroke="#2e2e2e" stroke-width="1"/>
<text x="143.10" y="376.18" font-size="6.4" fill="#4a4a4a" text-anchor="end" textLength="7.20" lengthAdjust="spacingAndGlyphs">10</text>
<line x1="144.50" y1="355.36" x2="147.70" y2="355.36" stroke="#2e2e2e" stroke-width="1"/>
<text x="143.10" y="358.06" font-size="6.4" fill="#4a4a4a" text-anchor="end" textLength="7.20" lengthAdjust="spacingAndGlyphs">20</text>
<line x1="144.50" y1="337.24" x2="147.70" y2="337.24" stroke="#2e2e2e" stroke-width="1"/>
<text x="143.10" y="339.94" font-size="6.4" fill="#4a4a4a" text-anchor="end" textLength="7.20" lengthAdjust="spacingAndGlyphs">30</text>
<line x1="144.50" y1="319.12" x2="147.70" y2="319.12" stroke="#2e2e2e" stroke-width="1"/>
<text x="143.10" y="321.82" font-size="6.4" fill="#4a4a4a" text-anchor="end" textLength="7.20" lengthAdjust="spacingAndGlyphs">40</text>
<line x1="144.50" y1="301.00" x2="147.70" y2="301.00" stroke="#2e2e2e" stroke-width="1"/>
<text x="143.10" y="303.70" font-size="6.4" fill="#4a4a4a" text-anchor="end" textLength="7.20" lengthAdjust="spacingAndGlyphs">50</text>
<line x1="165.00" y1="391.60" x2="165.00" y2="394.00" stroke="#2e2e2e" stroke-width="0.9"/>
<line x1="190.80" y1="391.60" x2="190.80" y2="394.00" stroke="#2e2e2e" stroke-width="0.9"/>
<text x="165.00" y="403.00" font-size="6.4" fill="#4a4a4a" text-anchor="middle" textLength="8.50" lengthAdjust="spacingAndGlyphs">HC</text>
<text x="190.80" y="403.00" font-size="6.4" fill="#4a4a4a" text-anchor="middle" textLength="7.00" lengthAdjust="spacingAndGlyphs">SS</text>
<text x="165.00" y="410.40" font-size="6.4" fill="#4a4a4a" text-anchor="middle" textLength="14.30" lengthAdjust="spacingAndGlyphs">n=10</text>
<text x="190.80" y="410.40" font-size="6.4" fill="#4a4a4a" text-anchor="middle" textLength="14.00" lengthAdjust="spacingAndGlyphs">n=21</text>
<line x1="165.00" y1="384.20" x2="165.00" y2="390.40" stroke="#8a8a8a" stroke-width="1"/>
<line x1="160.80" y1="384.20" x2="169.20" y2="384.20" stroke="#8a8a8a" stroke-width="1"/>
<line x1="160.80" y1="390.40" x2="169.20" y2="390.40" stroke="#8a8a8a" stroke-width="1"/>
<line x1="190.80" y1="378.80" x2="190.80" y2="390.50" stroke="#8a8a8a" stroke-width="1"/>
<line x1="186.60" y1="378.80" x2="195.00" y2="378.80" stroke="#8a8a8a" stroke-width="1"/>
<line x1="186.60" y1="390.50" x2="195.00" y2="390.50" stroke="#8a8a8a" stroke-width="1"/>
<circle cx="164.80" cy="373.40" r="1.42" fill="#0b4487"/>
<circle cx="163.40" cy="383.70" r="1.42" fill="#0b4487"/>
<circle cx="166.20" cy="385.50" r="1.42" fill="#0b4487"/>
<circle cx="163.40" cy="387.40" r="1.42" fill="#0b4487"/>
<circle cx="157.20" cy="389.80" r="1.42" fill="#0b4487"/>
<circle cx="160.00" cy="389.30" r="1.42" fill="#0b4487"/>
<circle cx="164.80" cy="389.60" r="1.42" fill="#0b4487"/>
<circle cx="167.30" cy="390.00" r="1.42" fill="#0b4487"/>
<circle cx="170.10" cy="390.30" r="1.42" fill="#0b4487"/>
<circle cx="172.90" cy="389.80" r="1.42" fill="#0b4487"/>
<rect x="189.15" y="311.65" width="2.7" height="2.7" rx="0.7" fill="#cc0a24"/>
<rect x="189.15" y="342.15" width="2.7" height="2.7" rx="0.7" fill="#cc0a24"/>
<rect x="187.15" y="366.75" width="2.7" height="2.7" rx="0.7" fill="#cc0a24"/>
<rect x="189.65" y="369.25" width="2.7" height="2.7" rx="0.7" fill="#cc0a24"/>
<rect x="189.65" y="374.55" width="2.7" height="2.7" rx="0.7" fill="#cc0a24"/>
<rect x="192.15" y="378.95" width="2.7" height="2.7" rx="0.7" fill="#cc0a24"/>
<rect x="187.15" y="380.95" width="2.7" height="2.7" rx="0.7" fill="#cc0a24"/>
<rect x="192.15" y="381.55" width="2.7" height="2.7" rx="0.7" fill="#cc0a24"/>
<rect x="182.65" y="384.65" width="2.7" height="2.7" rx="0.7" fill="#cc0a24"/>
<rect x="185.15" y="386.15" width="2.7" height="2.7" rx="0.7" fill="#cc0a24"/>
<rect x="187.65" y="384.15" width="2.7" height="2.7" rx="0.7" fill="#cc0a24"/>
<rect x="190.15" y="386.65" width="2.7" height="2.7" rx="0.7" fill="#cc0a24"/>
<rect x="192.65" y="384.65" width="2.7" height="2.7" rx="0.7" fill="#cc0a24"/>
<rect x="195.15" y="386.15" width="2.7" height="2.7" rx="0.7" fill="#cc0a24"/>
<rect x="182.65" y="388.15" width="2.7" height="2.7" rx="0.7" fill="#cc0a24"/>
<rect x="185.65" y="388.65" width="2.7" height="2.7" rx="0.7" fill="#cc0a24"/>
<rect x="188.65" y="388.15" width="2.7" height="2.7" rx="0.7" fill="#cc0a24"/>
<rect x="191.65" y="388.65" width="2.7" height="2.7" rx="0.7" fill="#cc0a24"/>
<rect x="194.65" y="388.25" width="2.7" height="2.7" rx="0.7" fill="#cc0a24"/>
<rect x="197.15" y="387.45" width="2.7" height="2.7" rx="0.7" fill="#cc0a24"/>
<rect x="190.15" y="383.15" width="2.7" height="2.7" rx="0.7" fill="#cc0a24"/>
<line x1="157.00" y1="390.40" x2="173.00" y2="390.40" stroke="#2a2a2a" stroke-width="1.2"/>
<line x1="182.80" y1="386.20" x2="198.80" y2="386.20" stroke="#2a2a2a" stroke-width="1.2"/>
<line x1="165.00" y1="303.80" x2="191.50" y2="303.80" stroke="#8f8f8f" stroke-width="1.45"/>
<line x1="165.40" y1="302.40" x2="165.40" y2="305.20" stroke="#444" stroke-width="0.9"/>
<line x1="191.10" y1="302.40" x2="191.10" y2="305.20" stroke="#444" stroke-width="0.9"/>
<text x="178.25" y="301.20" font-size="6.0" fill="#444" text-anchor="middle" textLength="10.00" lengthAdjust="spacingAndGlyphs" font-style="italic">n.s.</text>
<text x="138.25" y="291.10" font-size="8.8" fill="#2b2b2b" text-anchor="start" textLength="79.25" lengthAdjust="spacingAndGlyphs">CD4+ Effector T cells</text>
<text transform="translate(129.90,347.20) rotate(-90)" x="0" y="0" font-size="9.6" fill="#4a4a4a" text-anchor="middle" textLength="73.80" lengthAdjust="spacingAndGlyphs">% normal CD4+ T cells</text>
<line x1="249.30" y1="300.90" x2="249.30" y2="391.30" stroke="#2e2e2e" stroke-width="1.15"/>
<line x1="248.70" y1="391.30" x2="310.00" y2="391.30" stroke="#4c4c4c" stroke-width="1.75"/>
<line x1="246.10" y1="391.30" x2="249.30" y2="391.30" stroke="#2e2e2e" stroke-width="1"/>
<text x="244.70" y="394.00" font-size="6.4" fill="#4a4a4a" text-anchor="end" textLength="3.60" lengthAdjust="spacingAndGlyphs">0</text>
<line x1="246.10" y1="368.85" x2="249.30" y2="368.85" stroke="#2e2e2e" stroke-width="1"/>
<text x="244.70" y="371.55" font-size="6.4" fill="#4a4a4a" text-anchor="end" textLength="7.20" lengthAdjust="spacingAndGlyphs">20</text>
<line x1="246.10" y1="346.40" x2="249.30" y2="346.40" stroke="#2e2e2e" stroke-width="1"/>
<text x="244.70" y="349.10" font-size="6.4" fill="#4a4a4a" text-anchor="end" textLength="7.20" lengthAdjust="spacingAndGlyphs">40</text>
<line x1="246.10" y1="323.95" x2="249.30" y2="323.95" stroke="#2e2e2e" stroke-width="1"/>
<text x="244.70" y="326.65" font-size="6.4" fill="#4a4a4a" text-anchor="end" textLength="7.20" lengthAdjust="spacingAndGlyphs">60</text>
<line x1="246.10" y1="301.50" x2="249.30" y2="301.50" stroke="#2e2e2e" stroke-width="1"/>
<text x="244.70" y="304.20" font-size="6.4" fill="#4a4a4a" text-anchor="end" textLength="7.20" lengthAdjust="spacingAndGlyphs">80</text>
<line x1="266.80" y1="391.30" x2="266.80" y2="393.70" stroke="#2e2e2e" stroke-width="0.9"/>
<line x1="292.70" y1="391.30" x2="292.70" y2="393.70" stroke="#2e2e2e" stroke-width="0.9"/>
<text x="266.80" y="402.70" font-size="6.4" fill="#4a4a4a" text-anchor="middle" textLength="8.50" lengthAdjust="spacingAndGlyphs">HC</text>
<text x="292.70" y="402.70" font-size="6.4" fill="#4a4a4a" text-anchor="middle" textLength="7.00" lengthAdjust="spacingAndGlyphs">SS</text>
<text x="266.80" y="410.10" font-size="6.4" fill="#4a4a4a" text-anchor="middle" textLength="14.30" lengthAdjust="spacingAndGlyphs">n=10</text>
<text x="292.70" y="410.10" font-size="6.4" fill="#4a4a4a" text-anchor="middle" textLength="14.00" lengthAdjust="spacingAndGlyphs">n=21</text>
<line x1="266.80" y1="382.60" x2="266.80" y2="386.00" stroke="#8a8a8a" stroke-width="1"/>
<line x1="262.60" y1="382.60" x2="271.00" y2="382.60" stroke="#8a8a8a" stroke-width="1"/>
<line x1="262.60" y1="386.00" x2="271.00" y2="386.00" stroke="#8a8a8a" stroke-width="1"/>
<line x1="292.70" y1="373.20" x2="292.70" y2="385.70" stroke="#8a8a8a" stroke-width="1"/>
<line x1="288.50" y1="373.20" x2="296.90" y2="373.20" stroke="#8a8a8a" stroke-width="1"/>
<line x1="288.50" y1="385.70" x2="296.90" y2="385.70" stroke="#8a8a8a" stroke-width="1"/>
<circle cx="259.60" cy="382.60" r="1.42" fill="#0b4487"/>
<circle cx="259.60" cy="385.90" r="1.42" fill="#0b4487"/>
<circle cx="262.60" cy="384.00" r="1.42" fill="#0b4487"/>
<circle cx="265.40" cy="382.60" r="1.42" fill="#0b4487"/>
<circle cx="265.40" cy="385.70" r="1.42" fill="#0b4487"/>
<circle cx="268.20" cy="383.50" r="1.42" fill="#0b4487"/>
<circle cx="269.80" cy="384.80" r="1.42" fill="#0b4487"/>
<circle cx="271.50" cy="386.80" r="1.42" fill="#0b4487"/>
<circle cx="274.30" cy="383.20" r="1.42" fill="#0b4487"/>
<circle cx="274.30" cy="385.70" r="1.42" fill="#0b4487"/>
<rect x="291.35" y="311.25" width="2.7" height="2.7" rx="0.7" fill="#cc0a24"/>
<rect x="289.65" y="356.25" width="2.7" height="2.7" rx="0.7" fill="#cc0a24"/>
<rect x="293.25" y="356.25" width="2.7" height="2.7" rx="0.7" fill="#cc0a24"/>
<rect x="291.35" y="359.45" width="2.7" height="2.7" rx="0.7" fill="#cc0a24"/>
<rect x="291.35" y="363.15" width="2.7" height="2.7" rx="0.7" fill="#cc0a24"/>
<rect x="288.55" y="371.85" width="2.7" height="2.7" rx="0.7" fill="#cc0a24"/>
<rect x="294.75" y="372.25" width="2.7" height="2.7" rx="0.7" fill="#cc0a24"/>
<rect x="291.35" y="372.65" width="2.7" height="2.7" rx="0.7" fill="#cc0a24"/>
<rect x="289.65" y="375.95" width="2.7" height="2.7" rx="0.7" fill="#cc0a24"/>
<rect x="286.85" y="377.85" width="2.7" height="2.7" rx="0.7" fill="#cc0a24"/>
<rect x="291.35" y="378.25" width="2.7" height="2.7" rx="0.7" fill="#cc0a24"/>
<rect x="295.85" y="378.55" width="2.7" height="2.7" rx="0.7" fill="#cc0a24"/>
<rect x="286.85" y="380.95" width="2.7" height="2.7" rx="0.7" fill="#cc0a24"/>
<rect x="289.65" y="379.35" width="2.7" height="2.7" rx="0.7" fill="#cc0a24"/>
<rect x="284.15" y="386.05" width="2.7" height="2.7" rx="0.7" fill="#cc0a24"/>
<rect x="286.85" y="384.35" width="2.7" height="2.7" rx="0.7" fill="#cc0a24"/>
<rect x="290.25" y="386.05" width="2.7" height="2.7" rx="0.7" fill="#cc0a24"/>
<rect x="293.05" y="384.35" width="2.7" height="2.7" rx="0.7" fill="#cc0a24"/>
<rect x="295.85" y="383.45" width="2.7" height="2.7" rx="0.7" fill="#cc0a24"/>
<rect x="295.85" y="387.15" width="2.7" height="2.7" rx="0.7" fill="#cc0a24"/>
<rect x="298.65" y="386.05" width="2.7" height="2.7" rx="0.7" fill="#cc0a24"/>
<line x1="258.80" y1="384.40" x2="274.80" y2="384.40" stroke="#2a2a2a" stroke-width="1.2"/>
<line x1="284.70" y1="379.90" x2="300.70" y2="379.90" stroke="#2a2a2a" stroke-width="1.2"/>
<line x1="266.80" y1="303.40" x2="293.40" y2="303.40" stroke="#8f8f8f" stroke-width="1.45"/>
<line x1="267.20" y1="302.00" x2="267.20" y2="304.80" stroke="#444" stroke-width="0.9"/>
<line x1="293.00" y1="302.00" x2="293.00" y2="304.80" stroke="#444" stroke-width="0.9"/>
<text x="280.10" y="300.80" font-size="6.0" fill="#444" text-anchor="middle" textLength="10.00" lengthAdjust="spacingAndGlyphs" font-style="italic">n.s.</text>
<text x="272.00" y="291.00" font-size="8.8" fill="#2b2b2b" text-anchor="start" textLength="16.80" lengthAdjust="spacingAndGlyphs">Treg</text>
<text transform="translate(231.60,346.30) rotate(-90)" x="0" y="0" font-size="9.6" fill="#4a4a4a" text-anchor="middle" textLength="74.60" lengthAdjust="spacingAndGlyphs">% normal CD4+ T cells</text>
<line x1="350.00" y1="300.80" x2="350.00" y2="391.60" stroke="#2e2e2e" stroke-width="1.15"/>
<line x1="349.40" y1="391.60" x2="411.00" y2="391.60" stroke="#4c4c4c" stroke-width="1.75"/>
<line x1="346.80" y1="391.60" x2="350.00" y2="391.60" stroke="#2e2e2e" stroke-width="1"/>
<text x="345.40" y="394.30" font-size="6.4" fill="#4a4a4a" text-anchor="end" textLength="3.60" lengthAdjust="spacingAndGlyphs">0</text>
<line x1="346.80" y1="361.53" x2="350.00" y2="361.53" stroke="#2e2e2e" stroke-width="1"/>
<text x="345.40" y="364.23" font-size="6.4" fill="#4a4a4a" text-anchor="end" textLength="7.20" lengthAdjust="spacingAndGlyphs">10</text>
<line x1="346.80" y1="331.47" x2="350.00" y2="331.47" stroke="#2e2e2e" stroke-width="1"/>
<text x="345.40" y="334.17" font-size="6.4" fill="#4a4a4a" text-anchor="end" textLength="7.20" lengthAdjust="spacingAndGlyphs">20</text>
<line x1="346.80" y1="301.40" x2="350.00" y2="301.40" stroke="#2e2e2e" stroke-width="1"/>
<text x="345.40" y="304.10" font-size="6.4" fill="#4a4a4a" text-anchor="end" textLength="7.20" lengthAdjust="spacingAndGlyphs">30</text>
<line x1="367.50" y1="391.60" x2="367.50" y2="394.00" stroke="#2e2e2e" stroke-width="0.9"/>
<line x1="393.30" y1="391.60" x2="393.30" y2="394.00" stroke="#2e2e2e" stroke-width="0.9"/>
<text x="367.50" y="403.00" font-size="6.4" fill="#4a4a4a" text-anchor="middle" textLength="8.50" lengthAdjust="spacingAndGlyphs">HC</text>
<text x="393.30" y="403.00" font-size="6.4" fill="#4a4a4a" text-anchor="middle" textLength="7.00" lengthAdjust="spacingAndGlyphs">SS</text>
<text x="367.50" y="410.40" font-size="6.4" fill="#4a4a4a" text-anchor="middle" textLength="14.30" lengthAdjust="spacingAndGlyphs"><tspan font-style="italic">n</tspan>=10</text>
<text x="393.30" y="410.40" font-size="6.4" fill="#4a4a4a" text-anchor="middle" textLength="14.00" lengthAdjust="spacingAndGlyphs"><tspan font-style="italic">n</tspan>=21</text>
<line x1="367.50" y1="319.70" x2="367.50" y2="361.10" stroke="#8a8a8a" stroke-width="1"/>
<line x1="363.30" y1="319.70" x2="371.70" y2="319.70" stroke="#8a8a8a" stroke-width="1"/>
<line x1="363.30" y1="361.10" x2="371.70" y2="361.10" stroke="#8a8a8a" stroke-width="1"/>
<line x1="393.30" y1="357.00" x2="393.30" y2="379.10" stroke="#8a8a8a" stroke-width="1"/>
<line x1="389.10" y1="357.00" x2="397.50" y2="357.00" stroke="#8a8a8a" stroke-width="1"/>
<line x1="389.10" y1="379.10" x2="397.50" y2="379.10" stroke="#8a8a8a" stroke-width="1"/>
<circle cx="362.00" cy="319.70" r="1.42" fill="#0b4487"/>
<circle cx="367.40" cy="317.80" r="1.42" fill="#0b4487"/>
<circle cx="373.00" cy="320.40" r="1.42" fill="#0b4487"/>
<circle cx="364.80" cy="343.70" r="1.42" fill="#0b4487"/>
<circle cx="370.20" cy="344.00" r="1.42" fill="#0b4487"/>
<circle cx="362.20" cy="354.90" r="1.42" fill="#0b4487"/>
<circle cx="367.50" cy="357.00" r="1.42" fill="#0b4487"/>
<circle cx="364.80" cy="360.50" r="1.42" fill="#0b4487"/>
<circle cx="370.20" cy="361.40" r="1.42" fill="#0b4487"/>
<circle cx="367.50" cy="366.90" r="1.42" fill="#0b4487"/>
<rect x="391.95" y="312.35" width="2.7" height="2.7" rx="0.7" fill="#cc0a24"/>
<rect x="389.95" y="331.85" width="2.7" height="2.7" rx="0.7" fill="#cc0a24"/>
<rect x="393.95" y="333.55" width="2.7" height="2.7" rx="0.7" fill="#cc0a24"/>
<rect x="391.95" y="345.85" width="2.7" height="2.7" rx="0.7" fill="#cc0a24"/>
<rect x="388.35" y="355.65" width="2.7" height="2.7" rx="0.7" fill="#cc0a24"/>
<rect x="395.85" y="355.05" width="2.7" height="2.7" rx="0.7" fill="#cc0a24"/>
<rect x="391.95" y="357.45" width="2.7" height="2.7" rx="0.7" fill="#cc0a24"/>
<rect x="391.95" y="361.55" width="2.7" height="2.7" rx="0.7" fill="#cc0a24"/>
<rect x="391.95" y="370.55" width="2.7" height="2.7" rx="0.7" fill="#cc0a24"/>
<rect x="384.75" y="373.75" width="2.7" height="2.7" rx="0.7" fill="#cc0a24"/>
<rect x="388.35" y="372.55" width="2.7" height="2.7" rx="0.7" fill="#cc0a24"/>
<rect x="395.85" y="373.55" width="2.7" height="2.7" rx="0.7" fill="#cc0a24"/>
<rect x="399.45" y="372.95" width="2.7" height="2.7" rx="0.7" fill="#cc0a24"/>
<rect x="391.95" y="375.35" width="2.7" height="2.7" rx="0.7" fill="#cc0a24"/>
<rect x="388.35" y="377.95" width="2.7" height="2.7" rx="0.7" fill="#cc0a24"/>
<rect x="395.85" y="377.95" width="2.7" height="2.7" rx="0.7" fill="#cc0a24"/>
<rect x="388.35" y="380.95" width="2.7" height="2.7" rx="0.7" fill="#cc0a24"/>
<rect x="391.95" y="381.95" width="2.7" height="2.7" rx="0.7" fill="#cc0a24"/>
<rect x="395.85" y="381.65" width="2.7" height="2.7" rx="0.7" fill="#cc0a24"/>
<rect x="395.85" y="384.55" width="2.7" height="2.7" rx="0.7" fill="#cc0a24"/>
<rect x="388.35" y="386.15" width="2.7" height="2.7" rx="0.7" fill="#cc0a24"/>
<line x1="359.50" y1="349.50" x2="375.50" y2="349.50" stroke="#2a2a2a" stroke-width="1.2"/>
<line x1="385.30" y1="374.30" x2="401.30" y2="374.30" stroke="#2a2a2a" stroke-width="1.2"/>
<line x1="367.60" y1="303.60" x2="393.60" y2="303.60" stroke="#8f8f8f" stroke-width="1.45"/>
<line x1="368.00" y1="302.20" x2="368.00" y2="305.00" stroke="#444" stroke-width="0.9"/>
<line x1="393.20" y1="302.20" x2="393.20" y2="305.00" stroke="#444" stroke-width="0.9"/>
<polygon points="378.20,297.65 378.79,299.19 380.43,299.27 379.15,300.31 379.58,301.90 378.20,301.00 376.82,301.90 377.25,300.31 375.97,299.27 377.61,299.19" fill="#1e1e1e"/>
<polygon points="383.00,297.65 383.59,299.19 385.23,299.27 383.95,300.31 384.38,301.90 383.00,301.00 381.62,301.90 382.05,300.31 380.77,299.27 382.41,299.19" fill="#1e1e1e"/>
<text x="373.20" y="291.00" font-size="8.8" fill="#2b2b2b" text-anchor="start" textLength="14.70" lengthAdjust="spacingAndGlyphs">TFH</text>
<text transform="translate(332.60,346.30) rotate(-90)" x="0" y="0" font-size="9.6" fill="#4a4a4a" text-anchor="middle" textLength="74.60" lengthAdjust="spacingAndGlyphs">% normal CD4+ T cells</text>
<line x1="451.70" y1="300.80" x2="451.70" y2="391.60" stroke="#2e2e2e" stroke-width="1.15"/>
<line x1="451.10" y1="391.60" x2="513.00" y2="391.60" stroke="#4c4c4c" stroke-width="1.75"/>
<line x1="448.50" y1="391.60" x2="451.70" y2="391.60" stroke="#2e2e2e" stroke-width="1"/>
<text x="447.10" y="394.30" font-size="6.4" fill="#4a4a4a" text-anchor="end" textLength="3.60" lengthAdjust="spacingAndGlyphs">0</text>
<line x1="448.50" y1="361.53" x2="451.70" y2="361.53" stroke="#2e2e2e" stroke-width="1"/>
<text x="447.10" y="364.23" font-size="6.4" fill="#4a4a4a" text-anchor="end" textLength="7.20" lengthAdjust="spacingAndGlyphs">10</text>
<line x1="448.50" y1="331.47" x2="451.70" y2="331.47" stroke="#2e2e2e" stroke-width="1"/>
<text x="447.10" y="334.17" font-size="6.4" fill="#4a4a4a" text-anchor="end" textLength="7.20" lengthAdjust="spacingAndGlyphs">20</text>
<line x1="448.50" y1="301.40" x2="451.70" y2="301.40" stroke="#2e2e2e" stroke-width="1"/>
<text x="447.10" y="304.10" font-size="6.4" fill="#4a4a4a" text-anchor="end" textLength="7.20" lengthAdjust="spacingAndGlyphs">30</text>
<line x1="469.70" y1="391.60" x2="469.70" y2="394.00" stroke="#2e2e2e" stroke-width="0.9"/>
<line x1="495.50" y1="391.60" x2="495.50" y2="394.00" stroke="#2e2e2e" stroke-width="0.9"/>
<text x="469.70" y="403.00" font-size="6.4" fill="#4a4a4a" text-anchor="middle" textLength="8.50" lengthAdjust="spacingAndGlyphs">HC</text>
<text x="495.50" y="403.00" font-size="6.4" fill="#4a4a4a" text-anchor="middle" textLength="7.00" lengthAdjust="spacingAndGlyphs">SS</text>
<text x="469.70" y="410.40" font-size="6.4" fill="#4a4a4a" text-anchor="middle" textLength="14.30" lengthAdjust="spacingAndGlyphs"><tspan font-style="italic">n</tspan>=10</text>
<text x="495.50" y="410.40" font-size="6.4" fill="#4a4a4a" text-anchor="middle" textLength="14.00" lengthAdjust="spacingAndGlyphs"><tspan font-style="italic">n</tspan>=21</text>
<line x1="469.70" y1="328.40" x2="469.70" y2="378.80" stroke="#8a8a8a" stroke-width="1"/>
<line x1="465.50" y1="328.40" x2="473.90" y2="328.40" stroke="#8a8a8a" stroke-width="1"/>
<line x1="465.50" y1="378.80" x2="473.90" y2="378.80" stroke="#8a8a8a" stroke-width="1"/>
<line x1="495.50" y1="370.10" x2="495.50" y2="387.50" stroke="#8a8a8a" stroke-width="1"/>
<line x1="491.30" y1="370.10" x2="499.70" y2="370.10" stroke="#8a8a8a" stroke-width="1"/>
<line x1="491.30" y1="387.50" x2="499.70" y2="387.50" stroke="#8a8a8a" stroke-width="1"/>
<circle cx="469.70" cy="319.80" r="1.42" fill="#0b4487"/>
<circle cx="469.70" cy="328.40" r="1.42" fill="#0b4487"/>
<circle cx="469.70" cy="351.90" r="1.42" fill="#0b4487"/>
<circle cx="467.00" cy="357.30" r="1.42" fill="#0b4487"/>
<circle cx="472.40" cy="357.90" r="1.42" fill="#0b4487"/>
<circle cx="469.70" cy="362.70" r="1.42" fill="#0b4487"/>
<circle cx="469.70" cy="365.70" r="1.42" fill="#0b4487"/>
<circle cx="469.70" cy="371.30" r="1.42" fill="#0b4487"/>
<circle cx="467.00" cy="378.80" r="1.42" fill="#0b4487"/>
<circle cx="472.40" cy="378.80" r="1.42" fill="#0b4487"/>
<rect x="494.15" y="316.95" width="2.7" height="2.7" rx="0.7" fill="#cc0a24"/>
<rect x="492.85" y="359.15" width="2.7" height="2.7" rx="0.7" fill="#cc0a24"/>
<rect x="495.65" y="358.85" width="2.7" height="2.7" rx="0.7" fill="#cc0a24"/>
<rect x="494.05" y="365.45" width="2.7" height="2.7" rx="0.7" fill="#cc0a24"/>
<rect x="491.65" y="368.15" width="2.7" height="2.7" rx="0.7" fill="#cc0a24"/>
<rect x="494.05" y="369.15" width="2.7" height="2.7" rx="0.7" fill="#cc0a24"/>
<rect x="496.85" y="369.75" width="2.7" height="2.7" rx="0.7" fill="#cc0a24"/>
<rect x="494.05" y="374.45" width="2.7" height="2.7" rx="0.7" fill="#cc0a24"/>
<rect x="491.65" y="379.45" width="2.7" height="2.7" rx="0.7" fill="#cc0a24"/>
<rect x="494.05" y="379.45" width="2.7" height="2.7" rx="0.7" fill="#cc0a24"/>
<rect x="496.65" y="379.45" width="2.7" height="2.7" rx="0.7" fill="#cc0a24"/>
<rect x="499.25" y="379.45" width="2.7" height="2.7" rx="0.7" fill="#cc0a24"/>
<rect x="489.25" y="382.45" width="2.7" height="2.7" rx="0.7" fill="#cc0a24"/>
<rect x="496.85" y="382.45" width="2.7" height="2.7" rx="0.7" fill="#cc0a24"/>
<rect x="486.95" y="386.45" width="2.7" height="2.7" rx="0.7" fill="#cc0a24"/>
<rect x="489.65" y="385.45" width="2.7" height="2.7" rx="0.7" fill="#cc0a24"/>
<rect x="492.25" y="386.65" width="2.7" height="2.7" rx="0.7" fill="#cc0a24"/>
<rect x="494.05" y="386.05" width="2.7" height="2.7" rx="0.7" fill="#cc0a24"/>
<rect x="496.85" y="386.85" width="2.7" height="2.7" rx="0.7" fill="#cc0a24"/>
<rect x="499.25" y="386.45" width="2.7" height="2.7" rx="0.7" fill="#cc0a24"/>
<rect x="501.65" y="386.65" width="2.7" height="2.7" rx="0.7" fill="#cc0a24"/>
<line x1="461.70" y1="360.30" x2="477.70" y2="360.30" stroke="#2a2a2a" stroke-width="1.2"/>
<line x1="487.50" y1="381.20" x2="503.50" y2="381.20" stroke="#2a2a2a" stroke-width="1.2"/>
<line x1="469.70" y1="303.60" x2="496.30" y2="303.60" stroke="#8f8f8f" stroke-width="1.45"/>
<line x1="470.10" y1="302.20" x2="470.10" y2="305.00" stroke="#444" stroke-width="0.9"/>
<line x1="495.90" y1="302.20" x2="495.90" y2="305.00" stroke="#444" stroke-width="0.9"/>
<polygon points="480.60,297.65 481.19,299.19 482.83,299.27 481.55,300.31 481.98,301.90 480.60,301.00 479.22,301.90 479.65,300.31 478.37,299.27 480.01,299.19" fill="#1e1e1e"/>
<polygon points="485.40,297.65 485.99,299.19 487.63,299.27 486.35,300.31 486.78,301.90 485.40,301.00 484.02,301.90 484.45,300.31 483.17,299.27 484.81,299.19" fill="#1e1e1e"/>
<text x="465.40" y="291.00" font-size="8.8" fill="#2b2b2b" text-anchor="start" textLength="35.10" lengthAdjust="spacingAndGlyphs">Th1/Th17</text>
<text transform="translate(434.70,346.30) rotate(-90)" x="0" y="0" font-size="9.6" fill="#4a4a4a" text-anchor="middle" textLength="74.60" lengthAdjust="spacingAndGlyphs">% normal CD4+ T cells</text>
<rect x="0" y="0" width="520" height="1.1" fill="#1a1616"/>
<rect x="0" y="0" width="1.1" height="418" fill="#1a1616"/>
<rect x="518.5" y="0" width="1.5" height="418" fill="#1a1616"/>
<rect x="0" y="416.5" width="520" height="1.5" fill="#1a1616"/>
</svg>
</body></html>
